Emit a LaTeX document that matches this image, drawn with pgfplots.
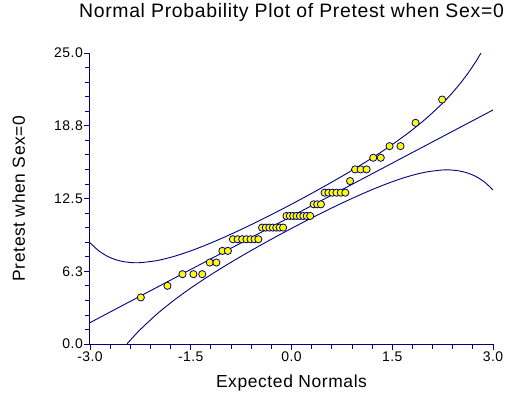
\documentclass[border=0pt]{standalone}
\usepackage{fontspec}
\setmainfont{Liberation Sans}[LetterSpace=3.5]
\usepackage{pgfplots}
\pgfplotsset{compat=1.18}
\definecolor{navyline}{RGB}{0,0,128}
\definecolor{markfill}{RGB}{255,255,0}
\begin{document}
\begin{tikzpicture}
\begin{axis}[
  at={(0,0)}, anchor=south west,
  scale only axis,
  width=403bp, height=291bp,
  xmin=-3, xmax=3, ymin=0, ymax=25,
  axis x line*=bottom, axis y line*=left,
  axis line style={-, draw=navyline, line width=1bp},
  tick align=outside,
  tick style={draw=navyline, line width=0.8bp},
  major tick length=6bp, minor tick length=4.5bp,
  xtick={-3,-1.5,0,1.5,3},
  xticklabels={-3.0,-1.5,0.0,1.5,3.0},
  ytick={0,6.25,12.5,18.75,25},
  yticklabels={0.0,6.3,12.5,18.8,25.0},
  minor x tick num=4, minor y tick num=4,
  ticklabel style={font=\fontsize{14}{14}\selectfont, text=black},
  xticklabel style={inner sep=1bp, yshift=-1bp},
  yticklabel style={inner sep=1bp},
  title={Normal Probability Plot of Pretest when Sex=0},
  title style={font=\fontsize{19.5}{19.5}\selectfont, at={(axis description cs:0.5,1.1031)}, anchor=base, inner sep=0pt},
  xlabel={Expected Normals},
  xlabel style={font=\fontsize{17.5}{17.5}\selectfont, at={(axis description cs:0.5,-0.1478)}, anchor=base, inner sep=0pt},
  ylabel={Pretest when Sex=0},
  ylabel style={font=\fontsize{17.5}{17.5}\selectfont, at={(axis description cs:-0.1613,0.5)}, anchor=base, inner sep=0pt},
  clip=true,
]
% fitted line
\addplot[navyline, line width=0.9bp] coordinates {(-3,1.835) (3,20.105)};
% upper band
\addplot[navyline, line width=0.9bp, smooth] coordinates {
(-3,8.703) (-2.875,8.033) (-2.75,7.565) (-2.625,7.256) (-2.5,7.074) (-2.375,6.991)
(-2.25,6.989) (-2,7.170) (-1.75,7.525) (-1.5,8.001) (-1.25,8.559) (-1,9.177)
(-0.75,9.838) (-0.5,10.536) (-0.25,11.260) (0,12.009) (0.25,12.782) (0.5,13.581)
(0.75,14.406) (1,15.267) (1.25,16.171) (1.5,17.136) (1.75,18.183) (2,19.350)
(2.25,20.691) (2.375,21.455) (2.5,22.299) (2.625,23.242) (2.75,24.313) (2.875,25.541)};
% lower band
\addplot[navyline, line width=0.9bp, smooth] coordinates {
(-2.45,0) (-2.375,0.485) (-2.25,1.249) (-2,2.590) (-1.75,3.757) (-1.5,4.805)
(-1.25,5.769) (-1,6.673) (-0.75,7.534) (-0.5,8.360) (-0.25,9.158) (0,9.931)
(0.25,10.680) (0.5,11.405) (0.75,12.102) (1,12.763) (1.25,13.381) (1.5,13.940)
(1.75,14.415) (2,14.770) (2.25,14.951) (2.375,14.949) (2.5,14.867) (2.625,14.684)
(2.75,14.375) (2.875,13.907) (3,13.237)};
% data
\addplot[only marks, mark=*, mark size=3.6bp, mark options={fill=markfill, draw=navyline, line width=0.8bp}] coordinates {
(-2.243,4) (-1.847,5) (-1.623,6) (-1.460,6) (-1.329,6) (-1.217,7) (-1.118,7)
(-1.029,8) (-0.947,8)
(-0.872,9) (-0.801,9) (-0.734,9) (-0.670,9) (-0.609,9) (-0.550,9) (-0.493,9)
(-0.438,10) (-0.383,10) (-0.330,10) (-0.278,10) (-0.227,10) (-0.176,10) (-0.125,10)
(-0.075,11) (-0.025,11) (0.025,11) (0.075,11) (0.125,11) (0.176,11) (0.227,11) (0.278,11)
(0.330,12) (0.383,12) (0.438,12)
(0.493,13) (0.550,13) (0.609,13) (0.670,13) (0.734,13) (0.801,13)
(0.872,14) (0.947,15) (1.029,15) (1.118,15) (1.217,16) (1.329,16)
(1.460,17) (1.623,17) (1.847,19) (2.243,21)};
\end{axis}
\pgfresetboundingbox
\path[use as bounding box] (-90bp,-52bp) rectangle (420bp,344bp);
\end{tikzpicture}
\end{document}
